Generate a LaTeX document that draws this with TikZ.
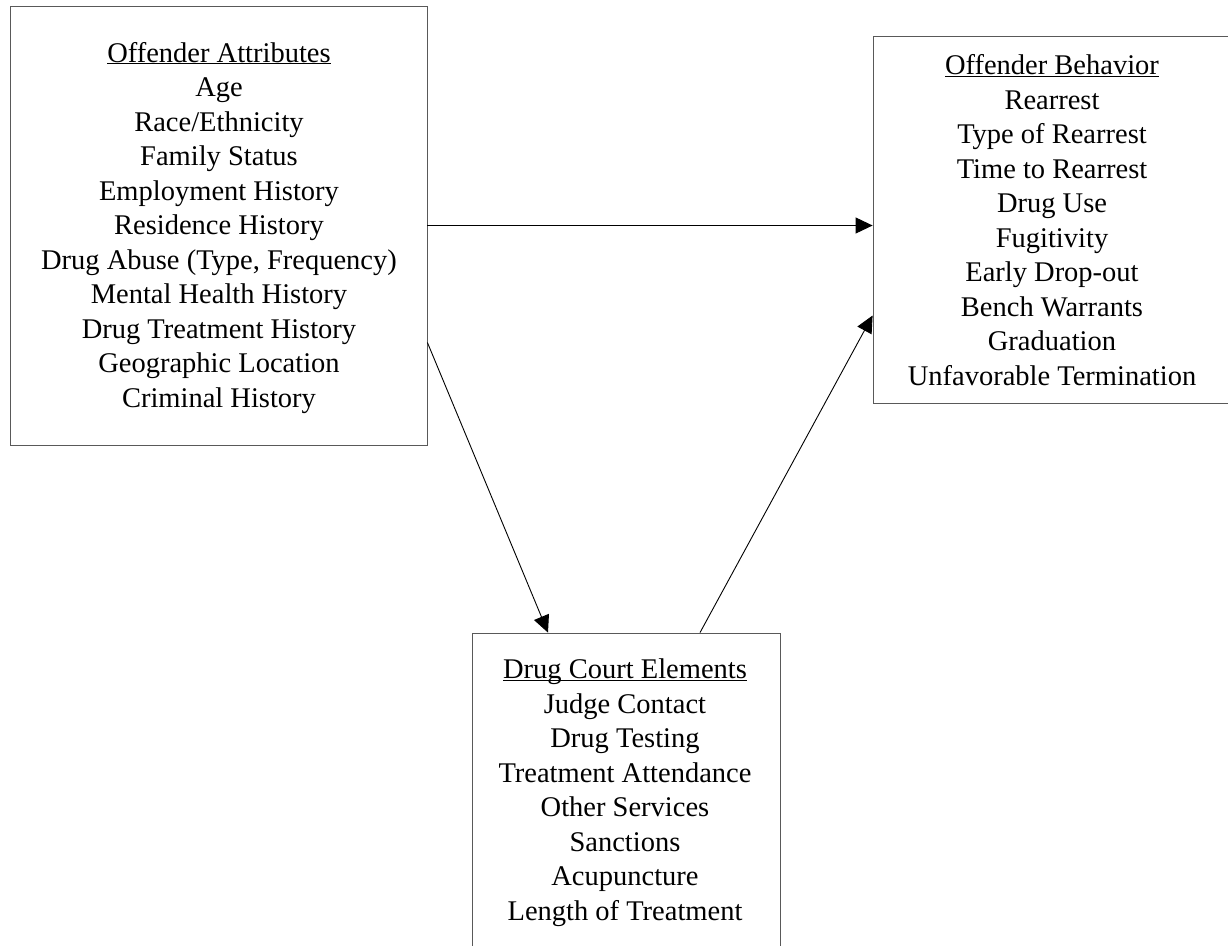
\documentclass[tikz,border=0pt]{standalone}
\usepackage{fontspec}
\setmainfont{Liberation Serif}
\usetikzlibrary{arrows.meta}

\newcommand{\boxhead}[1]{\underline{\smash{#1}}}

\begin{document}
\begin{tikzpicture}[x=1pt,y=-1pt,
  panel/.style={draw=black!65,line width=0.8pt,rectangle,inner sep=0pt},
  % base anchor of a multi-line node sits on its last line
  listtext/.style={align=center,anchor=base,inner sep=0pt,
    font=\fontsize{28.5}{34.5}\selectfont},
  link/.style={draw=black,line width=0.9pt,
    -{Triangle[length=17pt,width=16pt]}}]
  \useasboundingbox (0,0) rectangle (1228,945);

  % the three boxes
  \node[panel,minimum width=417pt,minimum height=439pt] (oa) at (218.5,225.5) {};
  \node[panel,minimum width=356pt,minimum height=367pt] (ob) at (1051,219.5) {};
  \node[panel,minimum width=308pt,minimum height=327pt] (dc) at (626,796.5) {};

  % box contents
  \node[listtext] (oat) at (219,407) {\boxhead{Offender Attributes}\\Age\\Race/Ethnicity\\Family Status\\Employment History\\Residence History\\Drug Abuse (Type, Frequency)\\Mental Health History\\Drug Treatment History\\Geographic Location\\Criminal History};
  \node[listtext] (obt) at (1052,385) {\boxhead{Offender Behavior}\\Rearrest\\Type of Rearrest\\Time to Rearrest\\Drug Use\\Fugitivity\\Early Drop-out\\Bench Warrants\\Graduation\\Unfavorable Termination};
  \node[listtext] (dct) at (625,920) {\boxhead{Drug Court Elements}\\Judge Contact\\Drug Testing\\Treatment Attendance\\Other Services\\Sanctions\\Acupuncture\\Length of Treatment};

  % connectors
  \draw[link] (oa.east) -- (oa.east -| ob.west);
  \draw[link] ([yshift=-117pt]oa.east) -- ([xshift=-78pt]dc.north);
  \draw[link] ([xshift=74pt]dc.north) -- ([yshift=-96pt]ob.west);
\end{tikzpicture}
\end{document}
